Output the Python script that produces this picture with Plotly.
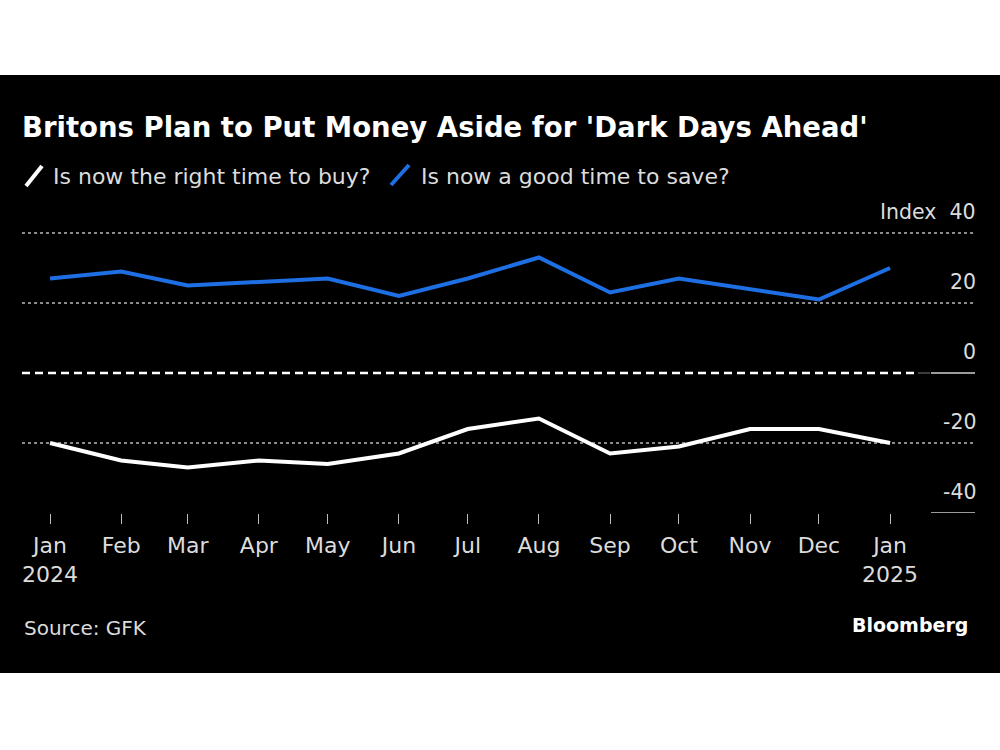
import plotly.graph_objects as go

# monthly GfK readings, Jan 2024 - Jan 2025
months = ["2024-01-01", "2024-02-01", "2024-03-01", "2024-04-01", "2024-05-01",
          "2024-06-01", "2024-07-01", "2024-08-01", "2024-09-01", "2024-10-01",
          "2024-11-01", "2024-12-01", "2025-01-01"]
month_labels = ["Jan<br>2024", "Feb", "Mar", "Apr", "May", "Jun", "Jul", "Aug",
                "Sep", "Oct", "Nov", "Dec", "Jan<br>2025"]
buy = [-20, -25, -27, -25, -26, -23, -16, -13, -23, -21, -16, -16, -20]
save = [27, 29, 25, 26, 27, 22, 27, 33, 23, 27, 24, 21, 30]
y_ticks = [-40, -20, 0, 20, 40]
y_labels = ["-40", "-20", "0", "20", "Index  40"]
grid_vals = [-20, 20, 40]

BLUE = "#1d6fe3"
TXT = "#dcdcdc"
FONT = "DejaVu Sans"

W, H = 1000, 750
L, R, T, B = 22, 25, 226, 237
pw, ph = W - L - R, H - T - B


def px(x):
    return (x - L) / pw


def py(y):
    return (H - B - y) / ph


fig = go.Figure()
fig.add_trace(go.Scatter(x=months, y=buy, mode="lines", name="Is now the right time to buy?",
                         line=dict(color="white", width=4)))
fig.add_trace(go.Scatter(x=months, y=save, mode="lines", name="Is now a good time to save?",
                         line=dict(color=BLUE, width=4)))

shapes = [
    # black card behind everything
    dict(type="rect", xref="paper", yref="paper", x0=px(0), x1=px(W), y0=py(673), y1=py(75),
         fillcolor="black", line=dict(width=0), layer="below"),
    # dashed zero line
    dict(type="line", xref="paper", yref="y", x0=0, x1=px(918), y0=0, y1=0,
         line=dict(color="white", width=2.5, dash="8px,5px")),
    dict(type="line", xref="paper", yref="y", x0=px(918), x1=px(930), y0=0, y1=0,
         line=dict(color="#777", width=1)),
    # solid bits under the 0 and -40 labels
    dict(type="line", xref="paper", yref="y", x0=px(931), x1=1, y0=0, y1=0,
         line=dict(color="#cfcfcf", width=1.5)),
    dict(type="line", xref="paper", yref="y", x0=px(931), x1=1, y0=-40, y1=-40,
         line=dict(color="#cfcfcf", width=1.5)),
    # legend slashes
    dict(type="line", xref="paper", yref="paper", x0=px(26), x1=px(42), y0=py(186), y1=py(166),
         line=dict(color="white", width=4)),
    dict(type="line", xref="paper", yref="paper", x0=px(391), x1=px(409), y0=py(185), y1=py(165),
         line=dict(color=BLUE, width=4)),
]

annotations = [
    dict(text="Is now the right time to buy?", x=px(51), y=py(176), xref="paper", yref="paper",
         xanchor="left", yanchor="middle", showarrow=False, font=dict(size=22, color=TXT, family=FONT)),
    dict(text="Is now a good time to save?", x=px(419), y=py(176), xref="paper", yref="paper",
         xanchor="left", yanchor="middle", showarrow=False, font=dict(size=22, color=TXT, family=FONT)),
    dict(text="Source: GFK", x=px(22), y=py(628), xref="paper", yref="paper",
         xanchor="left", yanchor="middle", showarrow=False, font=dict(size=20, color=TXT, family=FONT)),
    dict(text="<b>Bloomberg</b>", x=px(970), y=py(625), xref="paper", yref="paper",
         xanchor="right", yanchor="middle", showarrow=False, font=dict(size=19, color="white", family=FONT)),
]
# right-hand value labels sit just above their gridlines
for v, lab in zip(y_ticks, y_labels):
    annotations.append(dict(text=lab, x=1, y=v, xref="paper", yref="y", xanchor="right",
                            yanchor="middle", xshift=3, yshift=21, showarrow=False,
                            font=dict(size=20.5, color=TXT, family=FONT)))

fig.update_layout(
    width=W, height=H,
    margin=dict(l=L, r=R, t=T, b=B, pad=0),
    paper_bgcolor="white", plot_bgcolor="rgba(0,0,0,0)",
    showlegend=False,
    title=dict(text="<b>Britons Plan to Put Money Aside for 'Dark Days Ahead'</b>",
               x=22 / W, xanchor="left", y=1 - 127 / H, yanchor="middle",
               font=dict(size=27.5, color="white", family=FONT)),
    shapes=shapes, annotations=annotations,
    xaxis=dict(type="date", range=["2023-12-19 19:00", "2025-02-07"],
               tickmode="array", tickvals=months, ticktext=month_labels,
               ticks="outside", ticklen=10, tickwidth=1, tickcolor="#bbb",
               ticklabelstandoff=3,
               showgrid=False, zeroline=False, showline=False,
               tickfont=dict(size=22, color=TXT, family=FONT)),
    yaxis=dict(range=[-40, 42], tickmode="array", tickvals=y_ticks,
               showticklabels=False, ticks="", showgrid=False, zeroline=False, showline=False,
               minor=dict(tickmode="array", tickvals=grid_vals, showgrid=True,
                          gridcolor="#8a8a8a", gridwidth=1.5, griddash="3px,3px")),
)

fig.write_html("out.html", config={"displayModeBar": False},
               post_script="document.body.style.margin='0';")
